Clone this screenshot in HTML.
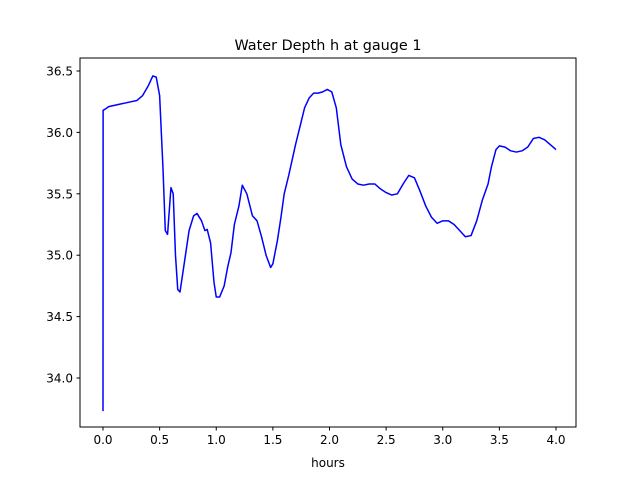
<!DOCTYPE html>
<html><head><meta charset="utf-8"><style>
body{margin:0;background:#fff;font-family:"DejaVu Sans","Liberation Sans",sans-serif}
svg text{font-family:"DejaVu Sans","Liberation Sans",sans-serif}
</style></head><body>
<svg id="chart" width="640" height="480" xmlns="http://www.w3.org/2000/svg">
<rect width="640" height="480" fill="#fff"/>
<text x="328" y="50" font-size="14.4" text-anchor="middle">Water Depth h at gauge 1</text>
<g id="axes"></g>
<text x="328" y="467" font-size="12" text-anchor="middle">hours</text>
</svg>
<script>
const hours=[0,0.001,0.02,0.05,0.1,0.15,0.2,0.25,0.3,0.35,0.4,0.44,0.47,0.5,0.53,0.55,0.57,0.6,0.62,0.64,0.66,0.68,0.72,0.76,0.8,0.83,0.87,0.9,0.92,0.95,0.98,1.0,1.03,1.07,1.1,1.13,1.16,1.2,1.23,1.27,1.32,1.36,1.4,1.44,1.48,1.5,1.54,1.57,1.6,1.64,1.7,1.74,1.78,1.82,1.86,1.9,1.94,1.98,2.02,2.06,2.1,2.15,2.2,2.25,2.3,2.35,2.4,2.45,2.5,2.55,2.6,2.65,2.7,2.75,2.8,2.85,2.9,2.95,3.0,3.05,3.1,3.15,3.2,3.25,3.3,3.35,3.4,3.43,3.47,3.5,3.55,3.6,3.65,3.7,3.75,3.8,3.85,3.9,3.95,4.0];
const depth=[33.73,36.18,36.19,36.21,36.22,36.23,36.24,36.25,36.26,36.3,36.38,36.46,36.45,36.3,35.7,35.2,35.17,35.55,35.5,35.0,34.72,34.7,34.95,35.2,35.32,35.34,35.28,35.2,35.21,35.1,34.78,34.66,34.66,34.75,34.9,35.02,35.25,35.4,35.57,35.5,35.32,35.28,35.15,35.0,34.9,34.93,35.12,35.3,35.5,35.65,35.9,36.05,36.2,36.28,36.32,36.32,36.33,36.35,36.33,36.2,35.9,35.72,35.62,35.58,35.57,35.58,35.58,35.54,35.51,35.49,35.5,35.58,35.65,35.63,35.52,35.4,35.31,35.26,35.28,35.28,35.25,35.2,35.15,35.16,35.28,35.45,35.58,35.72,35.86,35.89,35.88,35.85,35.84,35.85,35.88,35.95,35.96,35.94,35.9,35.86];
const xTicks=["0.0","0.5","1.0","1.5","2.0","2.5","3.0","3.5","4.0"];
const yTicks=["34.0","34.5","35.0","35.5","36.0","36.5"];
const L=80,R=576,T=58,B=427;
const xs=h=>103+h*(556-103)/4;
const ys=v=>378-(v-34)*(378-71)/2.5;
const NS="http://www.w3.org/2000/svg";
const g=document.getElementById('axes');
function mk(t,a){const e=document.createElementNS(NS,t);for(const k in a)e.setAttribute(k,a[k]);g.appendChild(e);return e;}
const frame=mk('rect',{x:L,y:T,width:R-L,height:B-T,fill:'none',stroke:'#000','stroke-width':1});


xTicks.forEach(s=>{const x=xs(parseFloat(s));
const t=mk('line',{x1:x,x2:x,y1:B,y2:B+3.5,stroke:'#000'});


const l=mk('text',{x:x,y:B+17,'font-size':12,'text-anchor':'middle'});l.textContent=s;

});
yTicks.forEach(s=>{const y=ys(parseFloat(s));
const t=mk('line',{x1:L-3.5,x2:L,y1:y,y2:y,stroke:'#000'});


const l=mk('text',{x:L-7,y:y+4.5,'font-size':12,'text-anchor':'end'});l.textContent=s;

});
const p=mk('polyline',{points:hours.map((h,i)=>xs(h)+','+ys(depth[i])).join(' '),fill:'none',stroke:'#0000ff','stroke-width':1.5,'stroke-linejoin':'round'});


</script>
</body></html>
